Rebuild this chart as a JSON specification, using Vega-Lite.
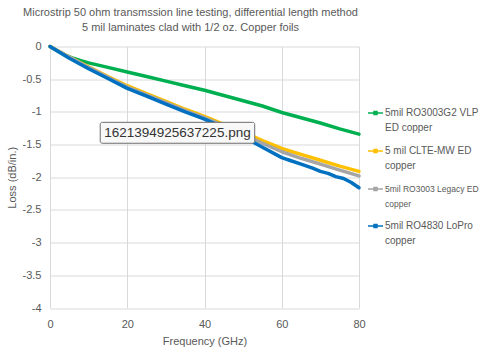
{
  "$schema": "https://vega.github.io/schema/vega-lite/v6.json",
  "width": 309,
  "height": 261.5,
  "autosize": {"type": "none"},
  "padding": {"left": 50, "top": 46.5, "right": 126, "bottom": 48},
  "background": "white",
  "config": {
    "font": "Liberation Sans",
    "view": {"stroke": null},
    "style": {"guide-label": {"lineHeight": 15}},
    "axis": {"labelColor": "#595959", "titleColor": "#595959", "labelFontSize": 11, "titleFontSize": 11, "titleFontWeight": "normal", "gridColor": "#d9d9d9", "domain": false, "ticks": false, "labelFlush": false, "labelOverlap": false},
    "axisX": {"labelPadding": 10, "titlePadding": 6},
    "axisY": {"labelPadding": 9, "titlePadding": 5}
  },
  "title": {
    "text": ["Microstrip 50 ohm transmssion line testing, differential length method", "5 mil laminates clad with 1/2 oz. Copper foils"],
    "fontSize": 11, "fontWeight": "normal", "color": "#595959", "anchor": "middle", "dx": -14, "offset": 8, "lineHeight": 15
  },
  "datasets": {
    "loss": [
      {"f": 0, "loss": 0, "s": "5mil RO3003G2 VLP ED copper"},
      {"f": 2, "loss": -0.07, "s": "5mil RO3003G2 VLP ED copper"},
      {"f": 4, "loss": -0.13, "s": "5mil RO3003G2 VLP ED copper"},
      {"f": 6, "loss": -0.18, "s": "5mil RO3003G2 VLP ED copper"},
      {"f": 8, "loss": -0.215, "s": "5mil RO3003G2 VLP ED copper"},
      {"f": 10, "loss": -0.25, "s": "5mil RO3003G2 VLP ED copper"},
      {"f": 15, "loss": -0.32, "s": "5mil RO3003G2 VLP ED copper"},
      {"f": 20, "loss": -0.39, "s": "5mil RO3003G2 VLP ED copper"},
      {"f": 25, "loss": -0.46, "s": "5mil RO3003G2 VLP ED copper"},
      {"f": 30, "loss": -0.53, "s": "5mil RO3003G2 VLP ED copper"},
      {"f": 35, "loss": -0.6, "s": "5mil RO3003G2 VLP ED copper"},
      {"f": 40, "loss": -0.67, "s": "5mil RO3003G2 VLP ED copper"},
      {"f": 45, "loss": -0.75, "s": "5mil RO3003G2 VLP ED copper"},
      {"f": 50, "loss": -0.83, "s": "5mil RO3003G2 VLP ED copper"},
      {"f": 55, "loss": -0.91, "s": "5mil RO3003G2 VLP ED copper"},
      {"f": 60, "loss": -1.01, "s": "5mil RO3003G2 VLP ED copper"},
      {"f": 65, "loss": -1.09, "s": "5mil RO3003G2 VLP ED copper"},
      {"f": 70, "loss": -1.17, "s": "5mil RO3003G2 VLP ED copper"},
      {"f": 75, "loss": -1.26, "s": "5mil RO3003G2 VLP ED copper"},
      {"f": 80, "loss": -1.34, "s": "5mil RO3003G2 VLP ED copper"},
      {"f": 0, "loss": 0, "s": "5 mil CLTE-MW ED copper"},
      {"f": 5, "loss": -0.16, "s": "5 mil CLTE-MW ED copper"},
      {"f": 10, "loss": -0.31, "s": "5 mil CLTE-MW ED copper"},
      {"f": 15, "loss": -0.46, "s": "5 mil CLTE-MW ED copper"},
      {"f": 20, "loss": -0.6, "s": "5 mil CLTE-MW ED copper"},
      {"f": 25, "loss": -0.72, "s": "5 mil CLTE-MW ED copper"},
      {"f": 30, "loss": -0.84, "s": "5 mil CLTE-MW ED copper"},
      {"f": 35, "loss": -0.96, "s": "5 mil CLTE-MW ED copper"},
      {"f": 40, "loss": -1.07, "s": "5 mil CLTE-MW ED copper"},
      {"f": 45, "loss": -1.19, "s": "5 mil CLTE-MW ED copper"},
      {"f": 50, "loss": -1.31, "s": "5 mil CLTE-MW ED copper"},
      {"f": 55, "loss": -1.44, "s": "5 mil CLTE-MW ED copper"},
      {"f": 60, "loss": -1.56, "s": "5 mil CLTE-MW ED copper"},
      {"f": 65, "loss": -1.65, "s": "5 mil CLTE-MW ED copper"},
      {"f": 70, "loss": -1.74, "s": "5 mil CLTE-MW ED copper"},
      {"f": 75, "loss": -1.83, "s": "5 mil CLTE-MW ED copper"},
      {"f": 80, "loss": -1.91, "s": "5 mil CLTE-MW ED copper"},
      {"f": 0, "loss": 0, "s": "5mil RO3003 Legacy ED copper"},
      {"f": 5, "loss": -0.16, "s": "5mil RO3003 Legacy ED copper"},
      {"f": 10, "loss": -0.32, "s": "5mil RO3003 Legacy ED copper"},
      {"f": 15, "loss": -0.47, "s": "5mil RO3003 Legacy ED copper"},
      {"f": 20, "loss": -0.62, "s": "5mil RO3003 Legacy ED copper"},
      {"f": 25, "loss": -0.74, "s": "5mil RO3003 Legacy ED copper"},
      {"f": 30, "loss": -0.86, "s": "5mil RO3003 Legacy ED copper"},
      {"f": 35, "loss": -0.98, "s": "5mil RO3003 Legacy ED copper"},
      {"f": 40, "loss": -1.09, "s": "5mil RO3003 Legacy ED copper"},
      {"f": 45, "loss": -1.21, "s": "5mil RO3003 Legacy ED copper"},
      {"f": 50, "loss": -1.34, "s": "5mil RO3003 Legacy ED copper"},
      {"f": 55, "loss": -1.48, "s": "5mil RO3003 Legacy ED copper"},
      {"f": 60, "loss": -1.61, "s": "5mil RO3003 Legacy ED copper"},
      {"f": 65, "loss": -1.71, "s": "5mil RO3003 Legacy ED copper"},
      {"f": 70, "loss": -1.8, "s": "5mil RO3003 Legacy ED copper"},
      {"f": 75, "loss": -1.89, "s": "5mil RO3003 Legacy ED copper"},
      {"f": 80, "loss": -1.98, "s": "5mil RO3003 Legacy ED copper"},
      {"f": 0, "loss": 0, "s": "5mil RO4830 LoPro copper"},
      {"f": 5, "loss": -0.18, "s": "5mil RO4830 LoPro copper"},
      {"f": 10, "loss": -0.34, "s": "5mil RO4830 LoPro copper"},
      {"f": 15, "loss": -0.49, "s": "5mil RO4830 LoPro copper"},
      {"f": 20, "loss": -0.64, "s": "5mil RO4830 LoPro copper"},
      {"f": 25, "loss": -0.76, "s": "5mil RO4830 LoPro copper"},
      {"f": 30, "loss": -0.88, "s": "5mil RO4830 LoPro copper"},
      {"f": 35, "loss": -1.0, "s": "5mil RO4830 LoPro copper"},
      {"f": 40, "loss": -1.11, "s": "5mil RO4830 LoPro copper"},
      {"f": 45, "loss": -1.24, "s": "5mil RO4830 LoPro copper"},
      {"f": 50, "loss": -1.38, "s": "5mil RO4830 LoPro copper"},
      {"f": 55, "loss": -1.54, "s": "5mil RO4830 LoPro copper"},
      {"f": 60, "loss": -1.7, "s": "5mil RO4830 LoPro copper"},
      {"f": 62, "loss": -1.74, "s": "5mil RO4830 LoPro copper"},
      {"f": 65, "loss": -1.8, "s": "5mil RO4830 LoPro copper"},
      {"f": 68, "loss": -1.86, "s": "5mil RO4830 LoPro copper"},
      {"f": 70, "loss": -1.91, "s": "5mil RO4830 LoPro copper"},
      {"f": 72, "loss": -1.94, "s": "5mil RO4830 LoPro copper"},
      {"f": 74, "loss": -1.99, "s": "5mil RO4830 LoPro copper"},
      {"f": 76, "loss": -2.02, "s": "5mil RO4830 LoPro copper"},
      {"f": 78, "loss": -2.08, "s": "5mil RO4830 LoPro copper"},
      {"f": 80, "loss": -2.16, "s": "5mil RO4830 LoPro copper"}
    ],
    "note": [
      {"x1": 13, "x2": 53, "y1": -1.16, "y2": -1.48, "xm": 33, "ym": -1.32, "label": "1621394925637225.png"}
    ]
  },
  "layer": [
    {
      "data": {"name": "loss"},
      "mark": {"type": "line", "strokeWidth": 3.5, "strokeCap": "round", "strokeJoin": "round"},
      "encoding": {
        "x": {"field": "f", "type": "quantitative", "title": "Frequency (GHz)", "scale": {"domain": [0, 80], "nice": false}, "axis": {"values": [0, 20, 40, 60, 80]}},
        "y": {"field": "loss", "type": "quantitative", "title": "Loss (dB/in.)", "scale": {"domain": [-4, 0], "nice": false}, "axis": {"values": [0, -0.5, -1, -1.5, -2, -2.5, -3, -3.5, -4], "labelExpr": "'' + datum.value"}},
        "color": {
          "field": "s", "type": "nominal",
          "sort": ["5mil RO3003G2 VLP ED copper", "5 mil CLTE-MW ED copper", "5mil RO3003 Legacy ED copper", "5mil RO4830 LoPro copper"],
          "scale": {"domain": ["5mil RO3003G2 VLP ED copper", "5 mil CLTE-MW ED copper", "5mil RO3003 Legacy ED copper", "5mil RO4830 LoPro copper"], "range": ["#00B050", "#FFC000", "#A5A5A5", "#0070C0"]},
          "legend": {
            "title": null, "orient": "none", "legendX": 317, "legendY": 58,
            "labelExpr": "datum.label == '5mil RO3003G2 VLP ED copper' ? ['5mil RO3003G2 VLP', 'ED copper'] : datum.label == '5 mil CLTE-MW ED copper' ? ['5 mil CLTE-MW ED', 'copper'] : datum.label == '5mil RO3003 Legacy ED copper' ? ['5mil RO3003 Legacy ED', 'copper'] : ['5mil RO4830 LoPro', 'copper']",
            "labelFontSize": 10, "labelColor": "#595959", "labelLimit": 200, "labelBaseline": "middle",
            "symbolType": "M-1,0H1M-0.2,-0.2H0.2V0.2H-0.2Z", "symbolSize": 225, "symbolStrokeWidth": 1.5,
            "rowPadding": 9, "labelOffset": 1,
            "encode": {"labels": {"update": {"fontSize": {"signal": "datum.label == '5mil RO3003 Legacy ED copper' ? 8.5 : 10"}}}}
          }
        },
        "order": {"field": "f", "type": "quantitative"}
      }
    },
    {
      "data": {"name": "note"},
      "mark": {"type": "rect", "fill": "#F8F8F8", "stroke": "#6E6E6E", "strokeWidth": 1, "cornerRadius": 2},
      "encoding": {
        "x": {"field": "x1", "type": "quantitative", "title": "Frequency (GHz)", "axis": {"values": [0, 20, 40, 60, 80]}},
        "x2": {"field": "x2"},
        "y": {"field": "y1", "type": "quantitative", "title": "Loss (dB/in.)", "axis": {"values": [0, -0.5, -1, -1.5, -2, -2.5, -3, -3.5, -4], "labelExpr": "'' + datum.value"}},
        "y2": {"field": "y2"}
      }
    },
    {
      "data": {"name": "note"},
      "mark": {"type": "text", "fontSize": 13.5, "color": "#333333"},
      "encoding": {
        "x": {"field": "xm", "type": "quantitative", "title": "Frequency (GHz)", "axis": {"values": [0, 20, 40, 60, 80]}},
        "y": {"field": "ym", "type": "quantitative", "title": "Loss (dB/in.)", "axis": {"values": [0, -0.5, -1, -1.5, -2, -2.5, -3, -3.5, -4], "labelExpr": "'' + datum.value"}},
        "text": {"field": "label"}
      }
    }
  ]
}
